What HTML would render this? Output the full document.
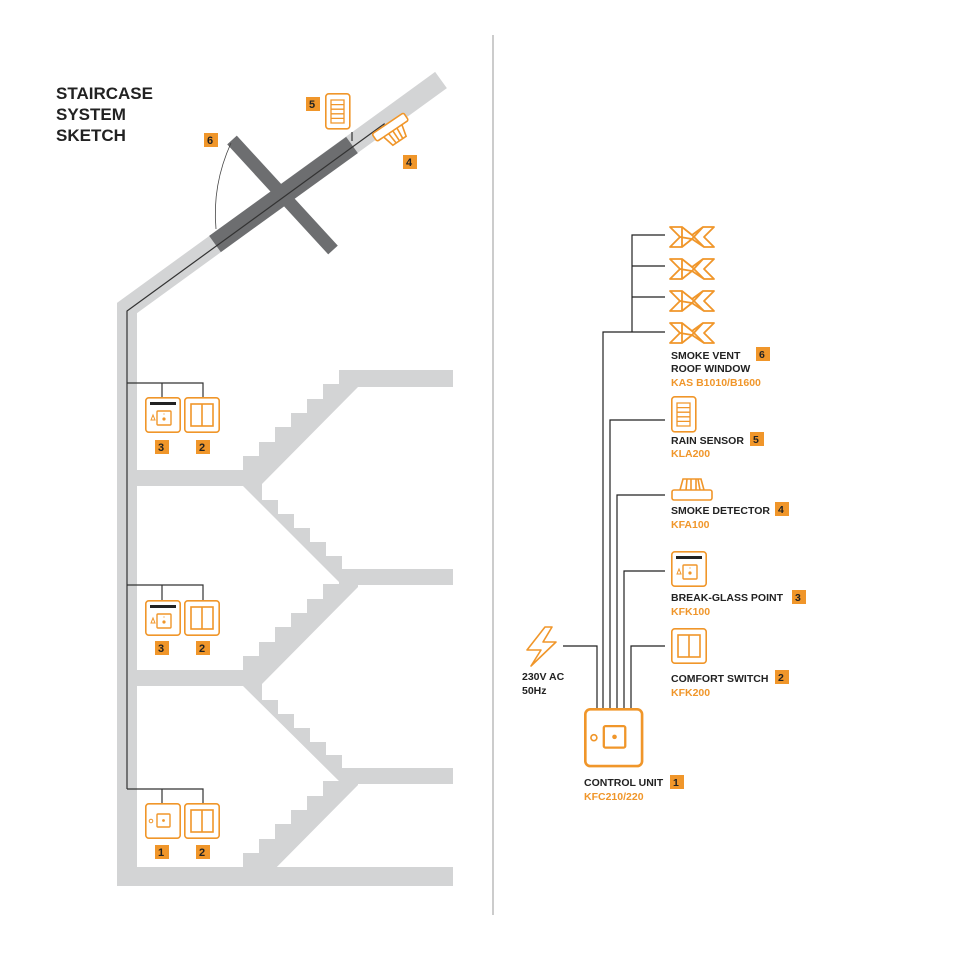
<!DOCTYPE html>
<html><head><meta charset="utf-8"><style>
html,body{margin:0;padding:0;background:#fff}
svg{display:block}
text{font-family:"Liberation Sans",sans-serif;font-weight:bold}
</style></head><body>
<svg width="960" height="960" viewBox="0 0 960 960" xmlns="http://www.w3.org/2000/svg">
<defs>
<g id="sw"><rect x="0.8" y="0.8" width="34.4" height="34.4" rx="3" fill="#fff" stroke="#f0962a" stroke-width="1.6"/><rect x="7" y="7" width="22" height="22" fill="none" stroke="#f0962a" stroke-width="1.6"/><line x1="18" y1="7" x2="18" y2="29" stroke="#f0962a" stroke-width="1.6"/></g>
<g id="bg"><rect x="0.8" y="0.8" width="34.4" height="34.4" rx="3" fill="#fff" stroke="#f0962a" stroke-width="1.6"/><rect x="5" y="5" width="26" height="3" fill="#222"/><rect x="12" y="14" width="14" height="14" rx="1" fill="none" stroke="#f0962a" stroke-width="1.4"/><circle cx="19" cy="22" r="1.6" fill="#f0962a"/><circle cx="19" cy="17" r="0.6" fill="#f0962a"/><path d="M6 23 L8 18 L10 23 Z" fill="none" stroke="#f0962a" stroke-width="1"/></g>
<g id="cu"><rect x="0.8" y="0.8" width="34.4" height="34.4" rx="3" fill="#fff" stroke="#f0962a" stroke-width="1.6"/><circle cx="6" cy="18" r="1.8" fill="none" stroke="#f0962a" stroke-width="1"/><rect x="12" y="11" width="13" height="13" rx="1" fill="none" stroke="#f0962a" stroke-width="1.4"/><circle cx="18.5" cy="17.5" r="1.4" fill="#f0962a"/></g>
<g id="vent" fill="none" stroke="#f0962a" stroke-width="1.8" stroke-linejoin="round"><path d="M2 2 L14 2 L24 10 L35 2 L46 2 L36 12 L46 22 L36 22 L24 14 L14 22 L2 22 L12 12 Z"/><path d="M12 12 L24 14 M24 10 L36 22 M14 2 L14 22 M35 2 L24 14"/></g>
<g id="rain"><rect x="0.8" y="0.8" width="24" height="35" rx="3" fill="#fff" stroke="#f0962a" stroke-width="1.6"/><path d="M6 7 H19 V30 H6 Z M6 11.6 H19 M6 16.2 H19 M6 20.8 H19 M6 25.4 H19" fill="none" stroke="#f0962a" stroke-width="1.3"/></g>
<g id="smk" fill="none" stroke="#f0962a" stroke-width="1.6"><rect x="1" y="12" width="40" height="10" rx="2" fill="#fff"/><path d="M9 12 L12 1 L30 1 L33 12 M15 12 L16 1 M20 12 L20 1 M25 12 L25 1 M29 12 L27 1"/></g>
</defs>

<line x1="493" y1="35" x2="493" y2="915" stroke="#999" stroke-width="1"/>

<text x="56" y="99" font-size="17" fill="#222">STAIRCASE</text>
<text x="56" y="120" font-size="17" fill="#222">SYSTEM</text>
<text x="56" y="141" font-size="17" fill="#222">SKETCH</text>

<g fill="#d3d4d5">
<polyline points="127,886 127,308 441,80" fill="none" stroke="#d3d4d5" stroke-width="20" stroke-linejoin="miter"/>
<rect x="117" y="867" width="336" height="19"/>
<rect x="137" y="470" width="125" height="16"/>
<rect x="137" y="670" width="125" height="16"/>
<rect x="340" y="370" width="113" height="17"/>
<rect x="340" y="569" width="113" height="16"/>
<rect x="340" y="768" width="113" height="16"/>
<polygon points="243,470 243,456 259,456 259,442 275,442 275,427 291,427 291,413 307,413 307,399 323,399 323,384 339,384 339,370 358,370 358,387 260,486 243,486"/>
<polygon points="243,670 243,656 259,656 259,642 275,642 275,627 291,627 291,613 307,613 307,599 323,599 323,584 339,584 339,569 358,569 358,587 260,686 243,686"/>
<polygon points="243,867 243,853 259,853 259,839 275,839 275,824 291,824 291,810 307,810 307,796 323,796 323,781 339,781 339,768 358,768 358,785 260,884 243,884"/>
<polygon points="243,486 262,486 262,500 278,500 278,514 294,514 294,528 310,528 310,542 326,542 326,556 342,556 342,569 358,569 358,585 342,585"/>
<polygon points="243,686 262,686 262,700 278,700 278,714 294,714 294,728 310,728 310,742 326,742 326,755 342,755 342,768 358,768 358,784 342,784"/>
</g>
<line x1="215" y1="244" x2="352" y2="145" stroke="#6d6e70" stroke-width="20"/>
<line x1="232" y1="140" x2="333" y2="250" stroke="#6d6e70" stroke-width="13"/>
<path d="M231 143 Q212 185 216 229" fill="none" stroke="#444" stroke-width="0.8"/>

<g fill="none" stroke="#333" stroke-width="1.2">
<polyline points="127,789 127,311 384,124 384,130"/>
<line x1="352" y1="132" x2="352" y2="141"/>
<polyline points="127,383 203,383 203,397"/><line x1="162" y1="383" x2="162" y2="397"/>
<polyline points="127,585 203,585 203,600"/><line x1="162" y1="585" x2="162" y2="600"/>
<polyline points="127,789 203,789 203,803"/><line x1="162" y1="789" x2="162" y2="803"/>
</g>
<use href="#bg" x="145" y="397"/><use href="#sw" x="184" y="397"/>
<use href="#bg" x="145" y="600"/><use href="#sw" x="184" y="600"/>
<use href="#cu" x="145" y="803"/><use href="#sw" x="184" y="803"/>
<g font-size="11" fill="#222">
<rect x="155" y="440" width="14" height="14" fill="#f0962a"/><text x="158" y="451">3</text>
<rect x="196" y="440" width="14" height="14" fill="#f0962a"/><text x="199" y="451">2</text>
<rect x="155" y="641" width="14" height="14" fill="#f0962a"/><text x="158" y="652">3</text>
<rect x="196" y="641" width="14" height="14" fill="#f0962a"/><text x="199" y="652">2</text>
<rect x="155" y="845" width="14" height="14" fill="#f0962a"/><text x="158" y="856">1</text>
<rect x="196" y="845" width="14" height="14" fill="#f0962a"/><text x="199" y="856">2</text>
<rect x="204" y="133" width="14" height="14" fill="#f0962a"/><text x="207" y="144">6</text>
<rect x="306" y="97" width="14" height="14" fill="#f0962a"/><text x="309" y="108">5</text>
<rect x="403" y="155" width="14" height="14" fill="#f0962a"/><text x="406" y="166">4</text>
</g>
<use href="#rain" x="325" y="93"/>
<g transform="translate(372,134) rotate(-34)" fill="#fff" stroke="#f0962a" stroke-width="1.6">
<rect x="0" y="0" width="38" height="9" rx="2"/>
<path d="M8 9 L11 21 L27 21 L30 9 M14 9 L15 21 M19 9 L19 21 M24 9 L23 21" fill="none"/>
</g>

<g fill="none" stroke="#222" stroke-width="1.2">
<polyline points="665,235 632,235 632,332"/>
<line x1="632" y1="266" x2="665" y2="266"/>
<line x1="632" y1="297" x2="665" y2="297"/>
<polyline points="665,332 603,332 603,708"/>
<polyline points="665,420 610,420 610,708"/>
<polyline points="665,495 617,495 617,708"/>
<polyline points="665,571 624,571 624,708"/>
<polyline points="665,646 631,646 631,708"/>
<polyline points="563,646 597,646 597,708"/>
</g>
<use href="#vent" x="668" y="225"/>
<use href="#vent" x="668" y="257"/>
<use href="#vent" x="668" y="289"/>
<use href="#vent" x="668" y="321"/>
<use href="#rain" x="671" y="396"/>
<use href="#smk" x="671" y="478"/>
<use href="#bg" x="671" y="551"/>
<use href="#sw" x="671" y="628"/>
<g transform="translate(584,708) scale(1.65)"><use href="#cu"/></g>
<path d="M545 627 L527 650 L541 650 L531 666 L556 642 L543 642 L552 627 Z" fill="none" stroke="#f0962a" stroke-width="1.6" stroke-linejoin="round"/>

<g font-size="10.5" fill="#222">
<text x="671" y="359">SMOKE VENT</text>
<text x="671" y="372">ROOF WINDOW</text>
<text x="671" y="386" fill="#f0962a">KAS B1010/B1600</text>
<text x="671" y="444">RAIN SENSOR</text>
<text x="671" y="457" fill="#f0962a">KLA200</text>
<text x="671" y="514">SMOKE DETECTOR</text>
<text x="671" y="528" fill="#f0962a">KFA100</text>
<text x="671" y="601">BREAK-GLASS POINT</text>
<text x="671" y="615" fill="#f0962a">KFK100</text>
<text x="671" y="682">COMFORT SWITCH</text>
<text x="671" y="696" fill="#f0962a">KFK200</text>
<text x="522" y="680">230V AC</text>
<text x="522" y="694">50Hz</text>
<text x="584" y="786">CONTROL UNIT</text>
<text x="584" y="800" fill="#f0962a">KFC210/220</text>
<rect x="756" y="347" width="14" height="14" fill="#f0962a"/><text x="759" y="358">6</text>
<rect x="750" y="432" width="14" height="14" fill="#f0962a"/><text x="753" y="443">5</text>
<rect x="775" y="502" width="14" height="14" fill="#f0962a"/><text x="778" y="513">4</text>
<rect x="792" y="590" width="14" height="14" fill="#f0962a"/><text x="795" y="601">3</text>
<rect x="775" y="670" width="14" height="14" fill="#f0962a"/><text x="778" y="681">2</text>
<rect x="670" y="775" width="14" height="14" fill="#f0962a"/><text x="673" y="786">1</text>
</g>
</svg>
</body></html>
